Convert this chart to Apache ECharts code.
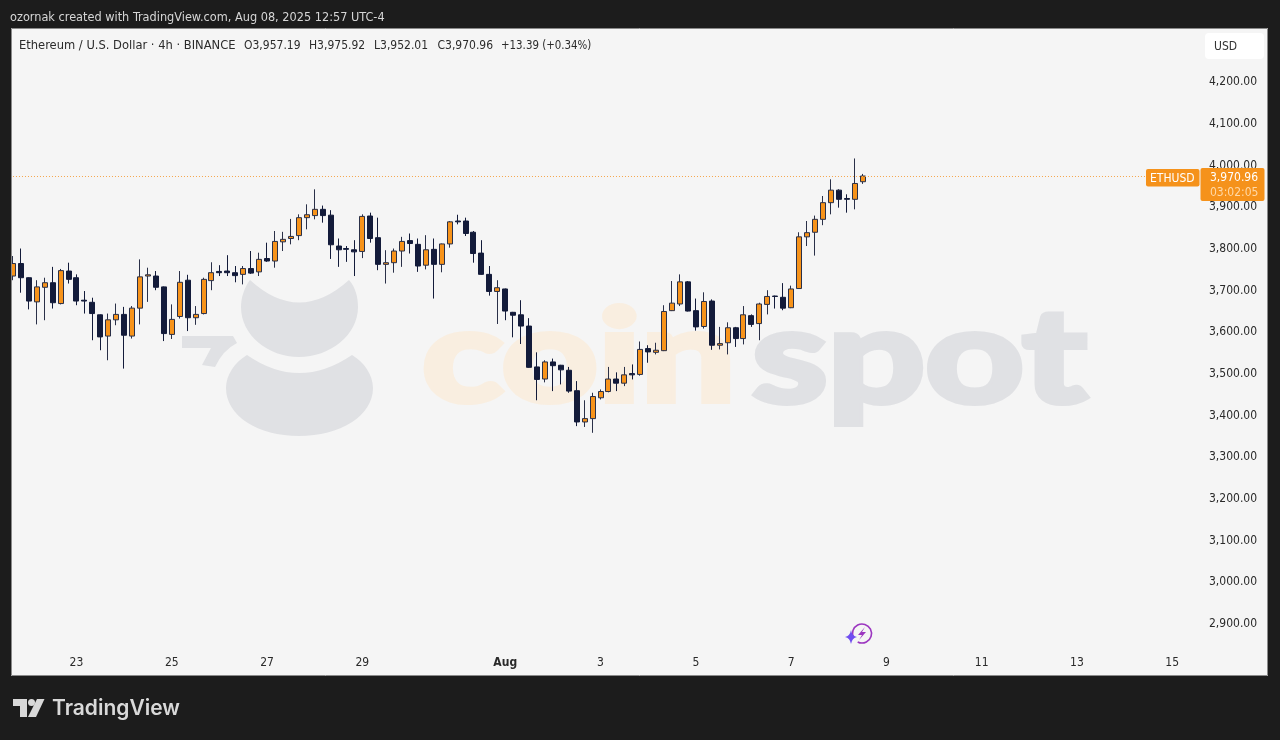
<!DOCTYPE html>
<html>
<head>
<meta charset="utf-8">
<style>
  html, body { margin: 0; padding: 0; background: #1c1c1c; }
  #chart { width: 1280px; height: 740px; }
</style>
<script src="https://cdn.jsdelivr.net/npm/echarts@6/dist/echarts.min.js"></script>
</head>
<body>
<div id="chart"></div>
<script>
const opens = [
  3731,3761,3727,3669,3704,3715,3665,3743,3727,3673,
  3668,3638,3587,3626,3639,3587,3654,3731,3731,3705,
  3591,3634,3721,3631,3641,3720,3742,3743,3739,3735,
  3749,3741,3773,3767,3813,3821,3828,3871,3876,3891,
  3877,3803,3797,3794,3790,3875,3823,3759,3763,3791,
  3816,3807,3757,3795,3759,3808,3863,3863,3836,3786,
  3735,3694,3700,3644,3638,3611,3513,3484,3525,3517,
  3505,3456,3381,3389,3439,3454,3484,3474,3497,3495,
  3557,3548,3552,3648,3664,3717,3648,3610,3671,3565,
  3571,3607,3581,3636,3617,3663,3683,3680,3655,3701,
  3825,3836,3867,3907,3937,3917,3915,3957.19
];
const closes = [
  3761,3727,3671,3705,3715,3667,3744,3723,3671,3671,
  3641,3585,3626,3639,3589,3654,3729,3734,3704,3593,
  3627,3716,3631,3639,3723,3739,3739,3739,3732,3749,
  3738,3771,3767,3814,3819,3826,3871,3878,3891,3876,
  3806,3794,3795,3789,3874,3821,3759,3763,3791,3814,
  3809,3755,3794,3759,3808,3861,3861,3833,3785,3735,
  3694,3703,3647,3637,3611,3512,3483,3525,3516,3506,
  3455,3381,3389,3442,3454,3484,3474,3494,3494,3555,
  3549,3553,3646,3666,3717,3647,3609,3670,3565,3569,
  3607,3581,3638,3615,3664,3682,3682,3654,3700,3825,
  3835,3867,3907,3937,3915,3915,3953,3970.96
];
const lows = [
  3721,3691,3651,3615,3625,3653,3663,3713,3661,3641,
  3577,3553,3529,3613,3509,3581,3615,3669,3697,3575,
  3580,3629,3599,3614,3639,3697,3731,3731,3716,3711,
  3736,3731,3765,3751,3791,3807,3817,3843,3867,3859,
  3772,3753,3765,3731,3774,3811,3745,3713,3739,3753,
  3785,3741,3747,3677,3740,3799,3855,3827,3763,3734,
  3684,3616,3625,3584,3568,3511,3433,3476,3455,3471,
  3451,3371,3369,3355,3435,3452,3455,3467,3483,3492,
  3523,3543,3551,3647,3659,3646,3600,3605,3554,3555,
  3543,3561,3567,3609,3577,3639,3653,3649,3654,3700,
  3803,3780,3853,3879,3895,3883,3891,3952.01
];
const highs = [
  3779,3797,3728,3721,3727,3753,3748,3763,3735,3695,
  3679,3639,3641,3665,3657,3659,3771,3751,3743,3706,
  3663,3743,3734,3659,3727,3764,3757,3781,3755,3755,
  3791,3787,3811,3839,3837,3868,3879,3903,3939,3900,
  3889,3821,3803,3817,3879,3883,3871,3793,3797,3825,
  3833,3821,3829,3821,3809,3863,3878,3871,3839,3817,
  3755,3721,3701,3645,3673,3630,3548,3529,3533,3518,
  3513,3479,3433,3451,3459,3513,3500,3513,3519,3574,
  3565,3571,3661,3719,3735,3719,3677,3692,3675,3609,
  3620,3609,3659,3639,3667,3697,3684,3714,3708,3836,
  3863,3876,3923,3963,3939,3927,4013,3975.92
];
// one slot per 4h bar, the axis runs on past the last bar
const slotCount = 150;
const dayIndex = [8, 20, 32, 44, 62, 74, 86, 98, 110, 122, 134, 146];
const dayLabels = ['23', '25', '27', '29', 'Aug', '3', '5', '7', '9', '11', '13', '15'];
const lastPrice = 3970.96;

const categories = [];
for (let i = 0; i < slotCount; i++) {
  const at = dayIndex.indexOf(i);
  categories.push(at >= 0 ? dayLabels[at] : '');
}

const FONT = '"DejaVu Sans Condensed", "DejaVu Sans", sans-serif';
const ORANGE = '#f7931a';
const NAVY = '#131b3a';

function label(x, y, text, fill, size) {
  return {
    type: 'text', x: x, y: y, z: 110,
    style: {
      text: text, fill: fill, fontFamily: FONT, fontSize: size || 12,
      verticalAlign: 'middle'
    }
  };
}
function box(x, y, w, h, fill, z, r) {
  return { type: 'rect', z: z, shape: { x: x, y: y, width: w, height: h, r: r || 0 }, style: { fill: fill } };
}
let blobCount = 0;
function blob(path, fill, z) {
  const name = 'blob' + blobCount++;
  echarts.graphic.registerShape(name, echarts.graphic.extendPath(path, {}));
  return { type: name, z: z, style: { fill: fill } };
}
function mark(x, text, size, fill) {
  return {
    type: 'text', x: x, y: 359.5, z: -10, scaleY: 0.76,
    style: {
      text: text, fill: fill, stroke: fill, lineWidth: 8, lineJoin: 'round',
      font: 'bold ' + size + 'px Lato, sans-serif', verticalAlign: 'middle'
    }
  };
}

const chart = echarts.init(document.getElementById('chart'));

chart.setOption({
  animation: false,
  backgroundColor: '#1c1c1c',
  grid: { left: 9, top: 80.5, width: 1191, height: 542, containLabel: false },
  xAxis: {
    type: 'category',
    data: categories,
    boundaryGap: true,
    axisLine: { show: false },
    axisTick: { show: false },
    splitLine: { show: false },
    axisLabel: {
      interval: (i, v) => v !== '',
      margin: 34,
      color: '#2a2a2a',
      fontFamily: FONT,
      fontSize: 12,
      hideOverlap: false,
      formatter: v => (v === 'Aug' ? '{b|Aug}' : v),
      rich: { b: { fontWeight: 'bold', color: '#2a2a2a', fontFamily: FONT, fontSize: 12 } }
    }
  },
  yAxis: {
    type: 'value',
    position: 'right',
    min: 2900,
    max: 4200,
    interval: 100,
    axisLine: { show: false },
    axisTick: { show: false },
    splitLine: { show: false },
    axisLabel: {
      margin: 9,
      formatter: v => '{p|' + v.toLocaleString('en-US', { minimumFractionDigits: 2, maximumFractionDigits: 2 }) + '}',
      rich: { p: { color: '#2a2a2a', fontFamily: FONT, fontSize: 12, padding: [3, 0, 0, 0] } }
    }
  },
  series: [{
    type: 'candlestick',
    barWidth: 5.5,
    data: opens.map((o, i) => [o, closes[i], lows[i], highs[i]]),
    itemStyle: {
      color: ORANGE,
      color0: NAVY,
      borderColor: '#2a3048',
      borderColor0: NAVY,
      borderWidth: 1
    },
    markLine: {
      silent: true,
      symbol: 'none',
      label: { show: false },
      lineStyle: { color: '#f5a64d', type: [1, 2], width: 1 },
      data: [[{ coord: [0, lastPrice] }, { coord: [143, lastPrice] }]]
    }
  }],
  graphic: [
    // panel behind the plot
    box(11, 28, 1257, 648, '#f5f5f5', -20),
    // coinspot watermark
    blob('M250 280 Q299 325 349 280 C356 288 358 298 358 307 C358 335 330 357 299 357 C268 357 241 335 241 307 C241 298 244 288 250 280 Z', '#e0e1e4', -10),
    blob('M247 355 Q299 391 352 355 C364 362 373 375 373 388 C373 416 340 436 299 436 C258 436 226 416 226 388 C226 375 235 362 247 355 Z', '#e0e1e4', -10),
    blob('M182 336 L233 336 L237 343 Q223 350 215 367 L202 365 L211 348 L182 348 Z', '#e0e1e4', -10),
    mark(422, 'coin', 168, '#f9eee0'),
    mark(752, 'spot', 172, '#e0e1e4'),

    // frame over the clipped first bar
    box(0, 0, 11, 740, '#1c1c1c', 100),
    { type: 'rect', z: 101, shape: { x: 11.5, y: 28.5, width: 1256, height: 647 }, style: { fill: 'none', stroke: '#8a8a8a', lineWidth: 1 } },

    label(10, 18, 'ozornak created with TradingView.com, Aug 08, 2025 12:57 UTC-4', '#d6d6d6', 12.6),
    label(19, 46, 'Ethereum / U.S. Dollar · 4h · BINANCE', '#2b2b2b', 12.8),
    label(244, 46, 'O3,957.19', '#2b2b2b'),
    label(309, 46, 'H3,975.92', '#2b2b2b'),
    label(374, 46, 'L3,952.01', '#2b2b2b'),
    label(437.5, 46, 'C3,970.96', '#2b2b2b'),
    label(501, 46, '+13.39 (+0.34%)', '#2b2b2b', 11.4),

    box(1205, 33, 59, 26, '#ffffff', 100, 4),
    label(1214, 47, 'USD', '#333333'),

    // last price tags
    box(1146, 169, 53.5, 17.5, '#f5921b', 100, 2),
    label(1150, 179, 'ETHUSD', '#ffffff'),
    box(1200.5, 168, 64, 33, '#f5921b', 100, 2),
    label(1210, 178, '3,970.96', '#ffffff'),
    label(1210, 193, '03:02:05', '#ffd9a8'),

    // alert badge
    { type: 'arc', z: 100, shape: { cx: 862, cy: 633.5, r: 9.5, startAngle: Math.PI * 0.85, endAngle: Math.PI * 0.65 }, style: { fill: 'none', stroke: '#9c36c0', lineWidth: 1.6 } },
    blob('M865 627 L858 635 L862 635 L859 640 L866 632 L862 632 Z', '#9c36c0', 100),
    blob('M851 630 Q852 636 857 637 Q852 638 851 644 Q850 638 845 637 Q850 636 851 630 Z', '#6f4df0', 100),

    // TradingView mark
    blob('M13 699 L27 699 L27 717 L20 717 L20 706 L13 706 Z', '#d9d9d9', 100),
    { type: 'circle', z: 100, shape: { cx: 31.5, cy: 702.5, r: 3.5 }, style: { fill: '#d9d9d9' } },
    blob('M37 699 L44.5 699 L36 717 L28 717 Z', '#d9d9d9', 100),
    { type: 'text', x: 52, y: 709, z: 100, style: { text: 'TradingView', fill: '#d9d9d9', font: '600 21px Inter, sans-serif', verticalAlign: 'middle' } }
  ]
});
</script>
</body>
</html>
